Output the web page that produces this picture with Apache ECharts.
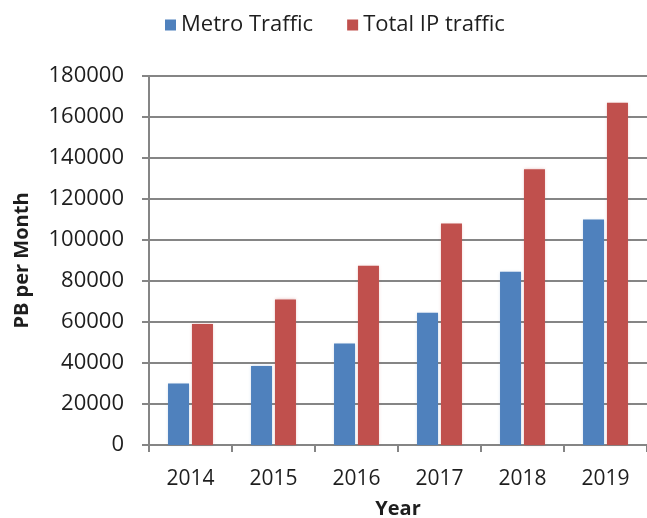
<!DOCTYPE html>
<html>
<head>
<meta charset="utf-8">
<script src="https://cdn.jsdelivr.net/npm/echarts@6/dist/echarts.min.js"></script>
<style>html,body{margin:0;padding:0;background:#fff;}#c{width:647px;height:518px;}</style>
</head>
<body>
<div id="c"></div>
<script>
const categories = ['2014', '2015', '2016', '2017', '2018', '2019'];
const metroTraffic = [30000, 38500, 49500, 64500, 84500, 110000];
const totalIPTraffic = [59000, 71000, 87500, 108000, 134500, 167000];
const yTicks = { min: 0, max: 180000, interval: 20000 };

const FONT = '"Open Sans", "Liberation Sans", sans-serif';
const TXT = '#1e1e1e';
const chart = echarts.init(document.getElementById('c'));
chart.setOption({
  animation: false,
  textStyle: { fontFamily: FONT },
  legend: {
    top: 9,
    left: 160,
    itemWidth: 11,
    itemHeight: 11,
    itemGap: 34,
    icon: 'rect',
    textStyle: { fontFamily: FONT, fontSize: 22, color: TXT },
    data: ['Metro Traffic', 'Total IP traffic']
  },
  grid: { left: 149, right: 0, top: 76, bottom: 73, containLabel: false, outerBoundsMode: 'none' },
  xAxis: {
    type: 'category',
    data: categories,
    name: 'Year',
    nameLocation: 'middle',
    nameGap: 54,
    nameTextStyle: { fontFamily: FONT, fontSize: 20, fontWeight: 'bold', color: TXT },
    axisLine: { lineStyle: { color: '#858585', width: 2 } },
    axisTick: { show: true, length: 7, alignWithLabel: false, lineStyle: { color: '#858585', width: 2 } },
    axisLabel: { fontFamily: FONT, fontSize: 21, color: TXT, margin: 24 }
  },
  yAxis: {
    type: 'value',
    min: yTicks.min,
    max: yTicks.max,
    interval: yTicks.interval,
    name: 'PB per Month',
    nameLocation: 'middle',
    nameGap: 117,
    nameTextStyle: { fontFamily: FONT, fontSize: 20, fontWeight: 'bold', color: TXT },
    axisLine: { show: true, lineStyle: { color: '#858585', width: 2 } },
    axisTick: { show: true, length: 7, lineStyle: { color: '#858585', width: 2 } },
    axisLabel: { fontFamily: FONT, fontSize: 22, color: TXT, margin: 25, formatter: function (v) { return String(v); } },
    splitLine: { show: true, lineStyle: { color: '#858585', width: 2 } }
  },
  series: [
    {
      name: 'Metro Traffic',
      type: 'bar',
      data: metroTraffic,
      barWidth: 21,
      barGap: '14%',
      itemStyle: { color: '#4F81BD', shadowColor: 'rgba(79,129,189,0.35)', shadowBlur: 3 }
    },
    {
      name: 'Total IP traffic',
      type: 'bar',
      data: totalIPTraffic,
      barWidth: 21,
      barGap: '14%',
      itemStyle: { color: '#C0504D', shadowColor: 'rgba(192,80,77,0.35)', shadowBlur: 3 }
    }
  ]
});
</script>
</body>
</html>
